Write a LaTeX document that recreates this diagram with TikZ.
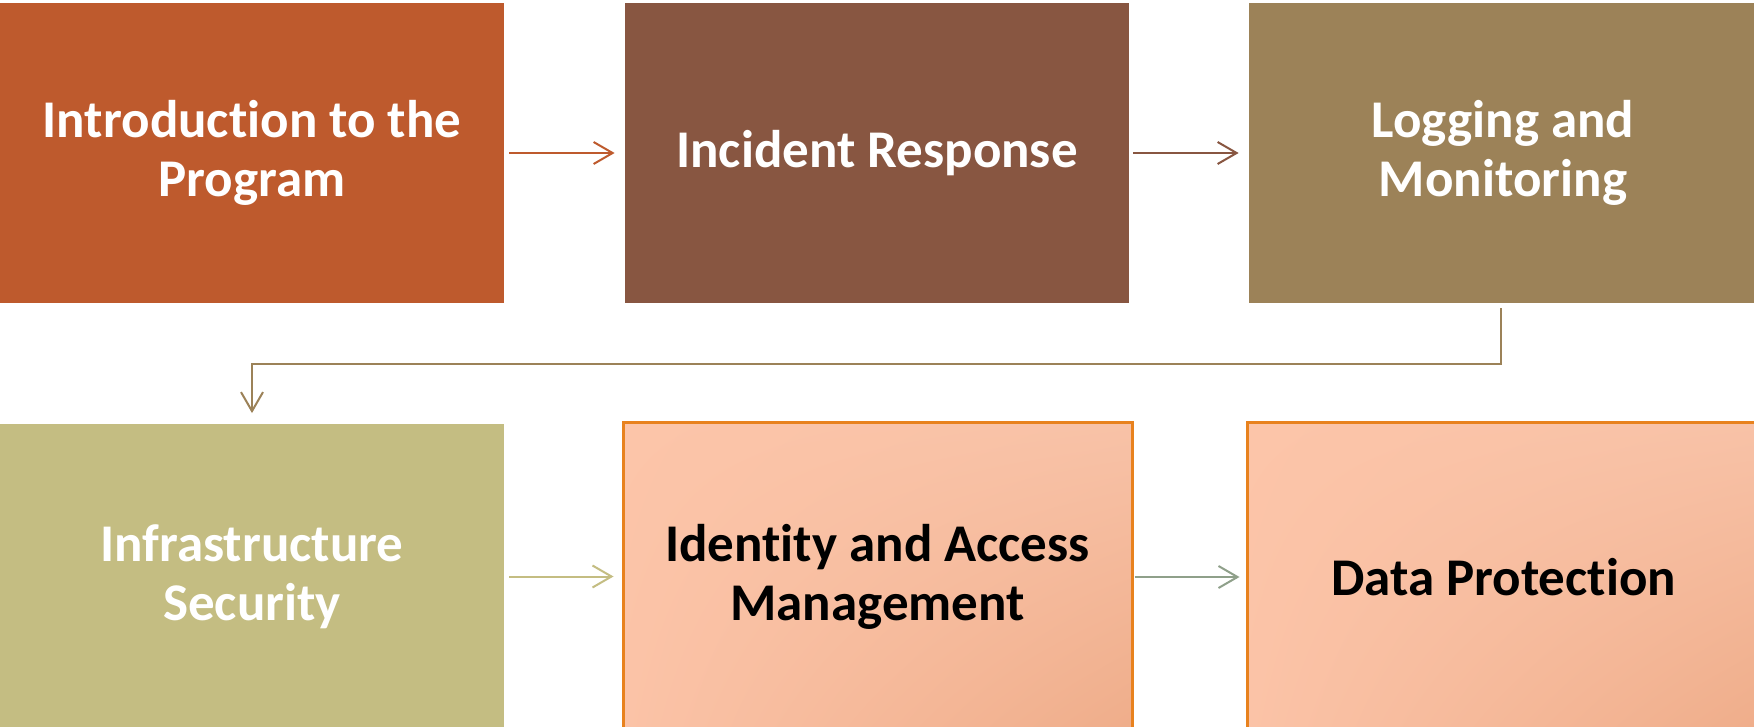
\documentclass[tikz,border=0pt]{standalone}
\usepackage{fontspec}
\setmainfont{Carlito}[Ligatures={NoCommon,NoRare,NoContextual}]
\usetikzlibrary{arrows.meta,shadings}
\newcommand{\nolig}{\kern0pt }
\definecolor{cA}{HTML}{BE5A2D}
\definecolor{cB}{HTML}{885641}
\definecolor{cC}{HTML}{9C8258}
\definecolor{cD}{HTML}{C4BD82}
\definecolor{cE}{HTML}{E8821E}
\definecolor{cG}{HTML}{8FA08A}
\definecolor{pUL}{HTML}{FCC5A9}
\definecolor{pUR}{HTML}{F8C2A7}
\definecolor{pLL}{HTML}{FBC3A7}
\definecolor{pLR}{HTML}{EFAD8A}
\begin{document}
\begin{tikzpicture}[x=0.5pt,y=-0.5pt,
  box/.style={rectangle, inner sep=0pt, align=center,
    font=\fontsize{26.5}{29.5}\selectfont\bfseries},
  solidbox/.style={box, fill=#1, text=white},
  peachbox/.style={box, draw=cE, line width=1.5pt, text=black, shade,
    upper left=pUL, upper right=pUR, lower left=pLL, lower right=pLR},
  flow/.style={draw=#1, line width=1pt,
    -{Straight Barb[length=9.5pt,width=11pt,line width=1pt]}}]
\useasboundingbox (0,0) rectangle (1754,727);
\fill[white] (0,0) rectangle (1754,727);

\node[solidbox=cA, minimum width=252pt, minimum height=150pt] (b1) at (252,153) {Introduct\nolig ion to the\\Program};
\node[solidbox=cB, minimum width=252pt, minimum height=150pt] (b2) at (877,153) {Incident Response};
\node[solidbox=cC, minimum width=254pt, minimum height=150pt] (b3) at (1503,153) {Logging and\\Monitoring};
\node[solidbox=cD, minimum width=252pt, minimum height=153pt] (b4) at (252,576.5) {Infrastructure\\Security};
\node[peachbox, minimum width=254.5pt, minimum height=155pt] (b5) at (877.5,577) {Ident\nolig ity and Access\\Management};
\node[peachbox, minimum width=256.5pt, minimum height=155pt] (b6) at (1503.5,577) {Data Protect\nolig ion};

\draw[flow=cA, shorten <=2.5pt, shorten >=5pt] (b1.east) -- (b2.west);
\draw[flow=cB, shorten <=2pt, shorten >=5pt] (b2.east) -- (b3.west);
\draw[flow=cC] ([xshift=-1pt,yshift=-2.5pt]b3.south) -- ++(0,56) -| ([yshift=5pt]b4.north);
\draw[flow=cD, shorten <=2.5pt, shorten >=4pt] (b4.east) -- (b4.east -| b5.west);
\draw[flow=cG, shorten <=0.5pt, shorten >=3pt] (b5.east) -- (b6.west);
\end{tikzpicture}
\end{document}
